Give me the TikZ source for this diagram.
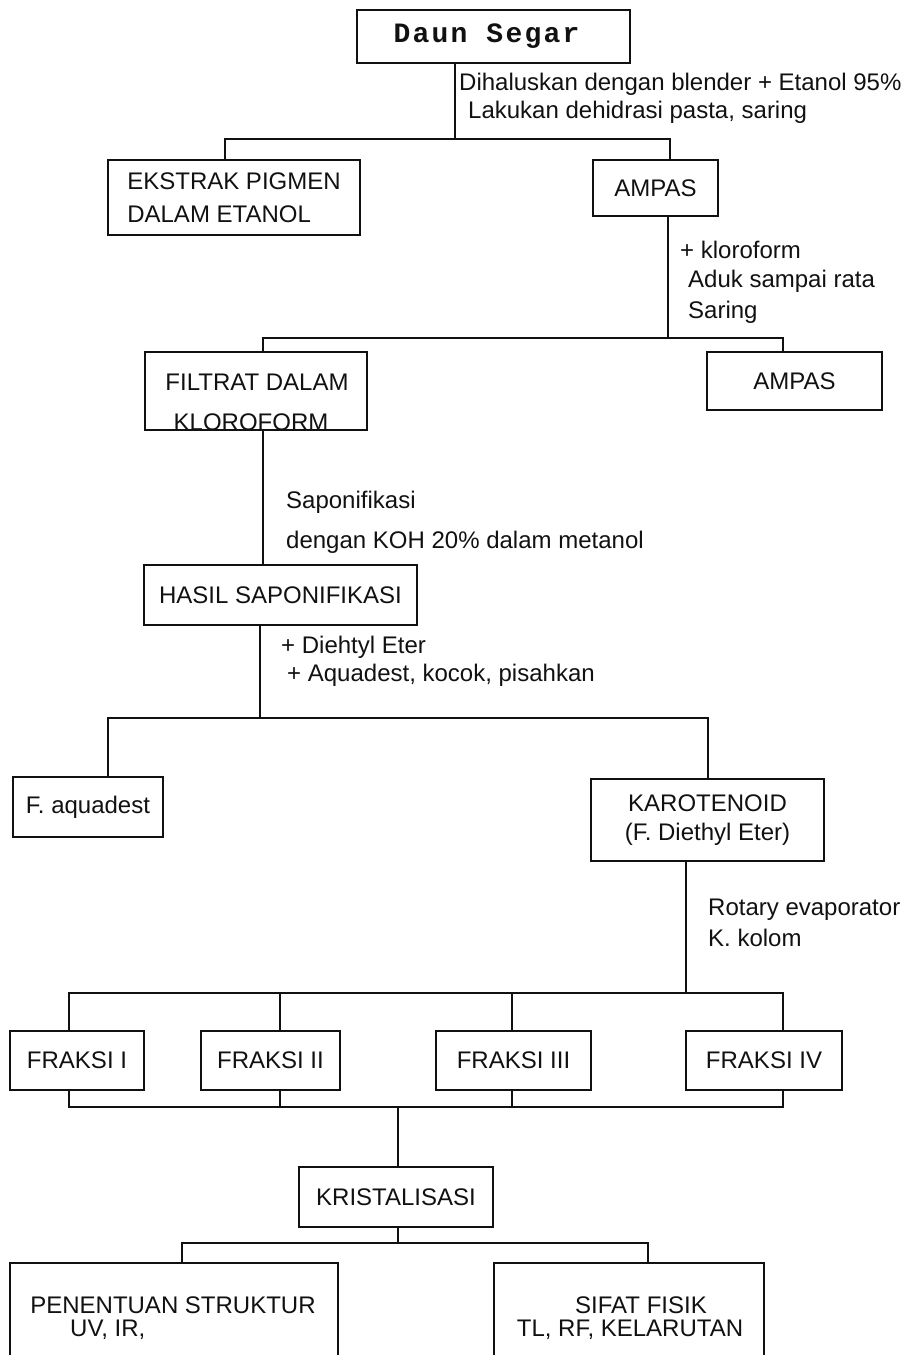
\documentclass[tikz,border=0pt]{standalone}
\usepackage{fontspec}
\setmainfont{Liberation Sans}
\newfontfamily\daunfont[LetterSpace=8]{Liberation Mono}
\usetikzlibrary{calc}
\definecolor{Ink}{HTML}{111111}
\tikzset{
  procbox/.style={draw=Ink,line width=2pt,minimum height=60pt,align=center,font=\fontsize{24}{30}\selectfont,text=Ink,inner sep=0pt},
  boxtext/.style={font=\fontsize{24}{28}\selectfont,text=Ink,inner sep=0pt},
  notetext/.style={anchor=west,font=\fontsize{24}{28}\selectfont,text=Ink,inner sep=0pt},
  link/.style={draw=Ink,line width=2pt}
}

\begin{document}
\begin{tikzpicture}[x=1pt,y=-1pt]
  \useasboundingbox (0,0) rectangle (913,1355);
  \clip (0,0) rectangle (913,1355);
  % start
  \node[procbox,minimum width=273pt,minimum height=53pt] (daun) at (493.5,36.5) {\daunfont\bfseries\fontsize{28}{28}\selectfont Daun Segar\hspace*{14pt}};
  \node[notetext] (noteA1) at (459,84) {Dihaluskan dengan blender + Etanol 95\%};
  \node[notetext] (noteA2) at (468,112) {Lakukan dehidrasi pasta, saring};
  \node[procbox,minimum width=252pt,minimum height=75pt,align=left] (ekstrak) at (234,197.5) {EKSTRAK PIGMEN\\[3pt]DALAM ETANOL};
  \node[procbox,minimum width=125pt,minimum height=56pt] (ampasA) at (655.5,188) {AMPAS};
  \draw[link] (455,0 |- daun.south) -- (455,139);
  \draw[link] (225,0 |- ekstrak.north) |- (670,139) -- (670,0 |- ampasA.north);

  % kloroform
  \node[notetext] (noteB1) at (680,250) {+ kloroform};
  \node[notetext] (noteB2) at (688,281) {Aduk sampai rata};
  \node[notetext] (noteB3) at (688,312) {Saring};
  \node[procbox,minimum width=222pt,minimum height=78pt] (filtrat) at (256,391) {};
  \node[boxtext] (filtratA) at (257,382) {FILTRAT DALAM};
  \node[boxtext] (filtratB) at (251,422) {KLOROFORM};
  \node[procbox,minimum width=175pt,minimum height=58pt] (ampasB) at (794.5,381) {AMPAS};
  \draw[link] (668,0 |- ampasA.south) -- (668,338);
  \draw[link] (263,0 |- filtrat.north) |- (783,338) -- (783,0 |- ampasB.north);

  % saponifikasi
  \node[notetext] (noteC1) at (286,502) {Saponifikasi};
  \node[notetext] (noteC2) at (286,542) {dengan KOH 20\% dalam metanol};
  \node[procbox,minimum width=273pt] (hasil) at (280.5,595) {HASIL SAPONIFIKASI};
  \draw[link] (263,0 |- filtrat.south) -- (263,0 |- hasil.north);

  % eter
  \node[notetext] (noteD1) at (281,647) {+ Diehtyl Eter};
  \node[notetext] (noteD2) at (287,675) {+ Aquadest, kocok, pisahkan};
  \node[procbox,minimum width=150pt] (faq) at (88,807) {F. aquadest};
  \node[procbox,minimum width=233pt,minimum height=82pt,font=\fontsize{24}{29}\selectfont] (karo) at (707.5,820) {KAROTENOID\\(F. Diethyl Eter)};
  \draw[link] (260,0 |- hasil.south) -- (260,718);
  \draw[link] (108,0 |- faq.north) |- (708,718) -- (708,0 |- karo.north);

  % kolom
  \node[notetext] (noteE1) at (708,910) {Rotary evaporator};
  \node[notetext] (noteE2) at (708,938) {K. kolom};
  \node[procbox,minimum width=134pt,minimum height=59pt] (fraksiA) at (77,1060.5) {FRAKSI I};
  \node[procbox,minimum width=139pt,minimum height=59pt] (fraksiB) at (270.5,1060.5) {FRAKSI II};
  \node[procbox,minimum width=155pt,minimum height=59pt] (fraksiC) at (513.5,1060.5) {FRAKSI III};
  \node[procbox,minimum width=156pt,minimum height=59pt] (fraksiD) at (764,1060.5) {FRAKSI IV};
  \draw[link] (686,0 |- karo.south) -- (686,993);
  \draw[link] (69,0 |- fraksiA.north) |- (783,993) -- (783,0 |- fraksiD.north);
  \draw[link] (280,0 |- fraksiB.north) -- (280,993);
  \draw[link] (512,0 |- fraksiC.north) -- (512,993);

  % kristal
  \node[procbox,minimum width=194pt] (krist) at (396,1197) {KRISTALISASI};
  \draw[link] (69,0 |- fraksiA.south) |- (783,1107) -- (783,0 |- fraksiD.south);
  \draw[link] (280,0 |- fraksiB.south) -- (280,1107);
  \draw[link] (512,0 |- fraksiC.south) -- (512,1107);
  \draw[link] (398,1107) -- (398,0 |- krist.north);

  % hasil akhir
  \node[procbox,minimum width=328pt,minimum height=140pt] (penentuan) at (174,1333) {};
  \node[boxtext] (penentuanA) at (173,1305) {PENENTUAN STRUKTUR};
  \node[boxtext,anchor=west] (penentuanB) at (70,1330) {UV, IR,};
  \node[procbox,minimum width=270pt,minimum height=140pt] (sifat) at (629,1333) {};
  \node[boxtext] (sifatA) at (641,1305) {SIFAT FISIK};
  \node[boxtext] (sifatB) at (630,1330) {TL, RF, KELARUTAN};
  \draw[link] (398,0 |- krist.south) -- (398,1243);
  \draw[link] (182,0 |- penentuan.north) |- (648,1243) -- (648,0 |- sifat.north);
\end{tikzpicture}
\end{document}
